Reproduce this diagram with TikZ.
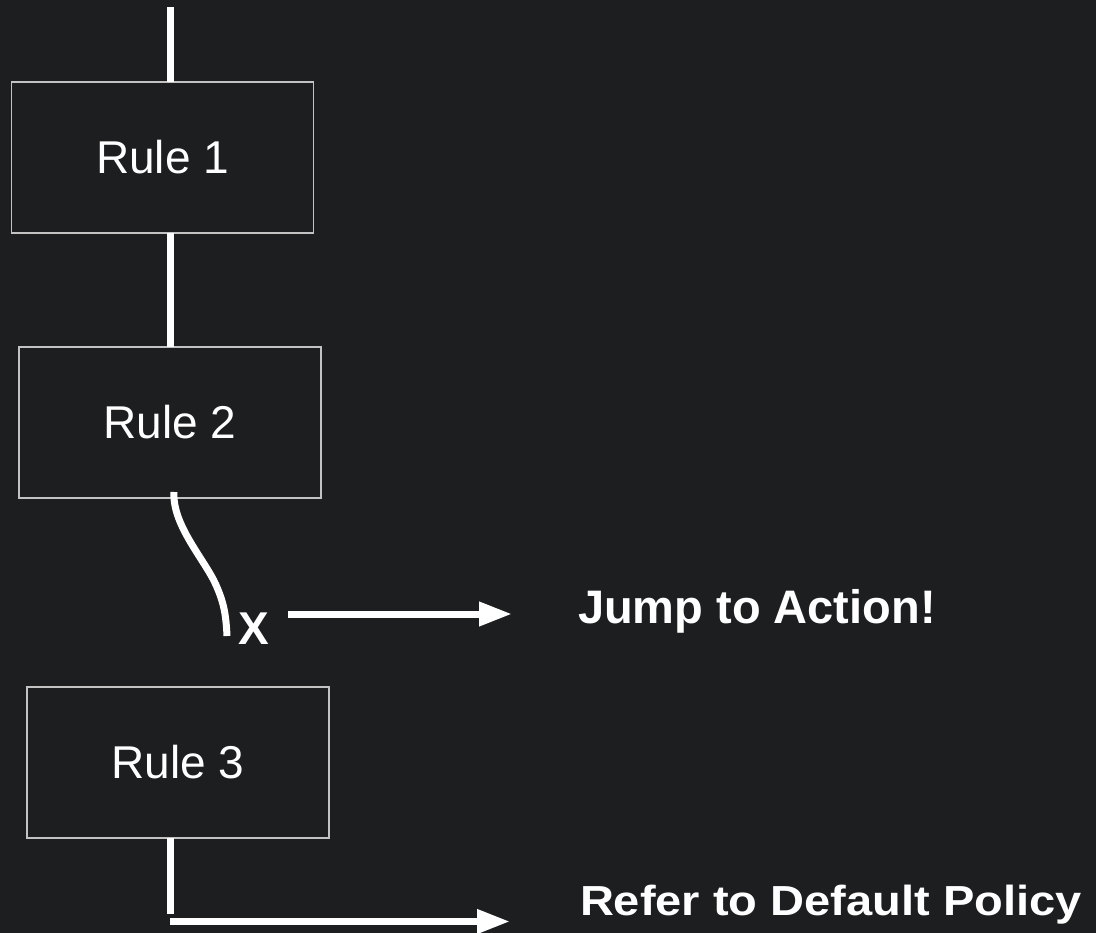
\documentclass[tikz,border=0pt]{standalone}
\usepackage{fontspec}
\setmainfont{Liberation Sans}
\usetikzlibrary{arrows.meta}
\definecolor{bgdark}{RGB}{29,30,32}
\definecolor{boxline}{RGB}{195,195,195}
\tikzset{
  rulebox/.style={draw=boxline, line width=1.3pt, minimum width=302pt, minimum height=151pt,
    inner sep=0pt, outer sep=0pt, text=white, font=\fontsize{46}{46}\selectfont},
  wire/.style={draw=white, line width=7pt},
  wirearrow/.style={draw=white, line width=7pt, -{Triangle[length=33pt,width=23pt]}},
  bigbold/.style={text=white, font=\fontsize{47}{47}\selectfont\bfseries, inner sep=0pt, outer sep=0pt}
}
\begin{document}
\begin{tikzpicture}[x=1pt,y=-1pt]
\fill[bgdark] (0,0) rectangle (1096,933);
\useasboundingbox (0,0) rectangle (1096,933);

\node[rulebox] (r1) at (162.5,157.5) {Rule 1};
\node[rulebox] (r2) at (170,422.5) {Rule 2};
\node[rulebox] (r3) at (178,762.5) {Rule 3};

\coordinate (top) at (170.5,7);
\draw[wire] (top) -- (top |- r1.north);
\draw[wire] (r1.south -| top) -- (r2.north -| top);

\coordinate (c0) at (174,492);
\coordinate (c1) at (216,585);
\coordinate (c2) at (227,636);
\draw[wire] (c0) .. controls (172,525) and (205,560) .. (c1)
               .. controls (224,603) and (226,615) .. (c2);

\node[bigbold, font=\fontsize{46}{46}\selectfont\bfseries] (x) at (253.5,629) {X};

\coordinate (a1s) at (288,614);
\coordinate (a1e) at (512,614);
\draw[wirearrow] (a1s) -- (a1e);
\node[bigbold, anchor=base west] (jump) at (578,623) {Jump to Action!};

\coordinate (v3e) at (170,914);
\draw[wire] (r3.south -| v3e) -- (v3e);
\coordinate (a2s) at (170,921.5);
\coordinate (a2e) at (510,921.5);
\draw[wirearrow] (a2s) -- (a2e);
\node[bigbold, font=\fontsize{42}{42}\selectfont\bfseries, anchor=base west, xscale=1.12, transform shape] (refer) at (580,915) {Refer to Default Policy};
\end{tikzpicture}
\end{document}
